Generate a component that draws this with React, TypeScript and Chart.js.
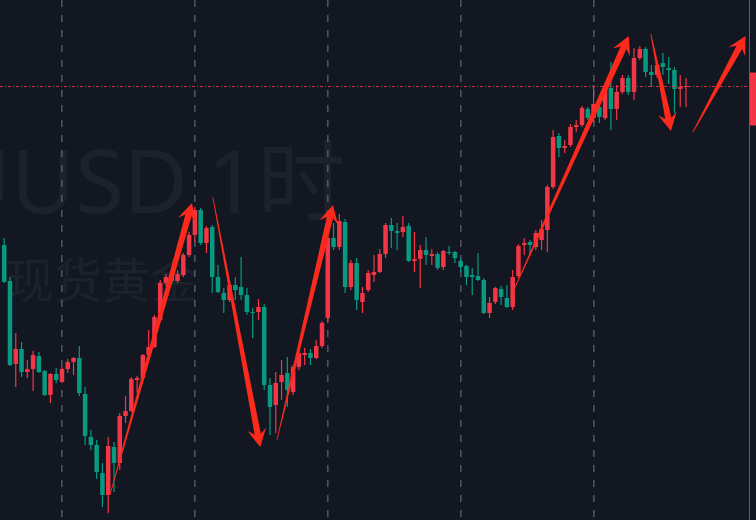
import React, { useEffect, useRef } from "react";
import { Chart, registerables } from "chart.js";

Chart.register(...registerables);

// 1-hour candles, spot gold (XAUUSD)
const OPEN = [
  3255, 3219, 3136, 3151, 3128, 3131, 3144, 3129, 3105, 3126,
  3118, 3131, 3138, 3142, 3106, 3063, 3055, 3027, 3005, 3053,
  3037, 3084, 3089, 3120, 3122, 3145, 3153, 3180, 3217, 3223,
  3219, 3225, 3245, 3265, 3290, 3257, 3273, 3223, 3207, 3200,
  3215, 3213, 3205, 3188, 3188, 3193, 3115, 3095, 3118, 3127,
  3108, 3133, 3145, 3147, 3142, 3154, 3182, 3262, 3253, 3278,
  3213, 3237, 3198, 3210, 3225, 3228, 3246, 3275, 3269, 3268,
  3274, 3239, 3241, 3250, 3244, 3246, 3233, 3248, 3248, 3239,
  3234, 3225, 3224, 3220, 3187, 3198, 3211, 3202, 3193, 3224,
  3255, 3258, 3253, 3260, 3270, 3313, 3364, 3352, 3355, 3373,
  3375, 3391, 3382, 3393, 3382, 3412, 3391, 3408, 3422, 3408,
  3442, 3451, 3428, 3425, 3437, 3432, 3430, 3411, 3413,
];
const HIGH = [
  3262, 3223, 3167, 3158, 3140, 3149, 3148, 3130, 3127, 3132,
  3133, 3141, 3143, 3154, 3113, 3070, 3060, 3037, 3063, 3058,
  3087, 3104, 3123, 3124, 3146, 3170, 3185, 3220, 3226, 3227,
  3230, 3247, 3268, 3293, 3292, 3274, 3275, 3235, 3212, 3217,
  3223, 3243, 3212, 3192, 3201, 3196, 3122, 3128, 3140, 3143,
  3135, 3152, 3152, 3151, 3160, 3179, 3264, 3277, 3286, 3281,
  3240, 3242, 3213, 3230, 3245, 3251, 3277, 3282, 3277, 3284,
  3277, 3268, 3255, 3263, 3251, 3248, 3250, 3254, 3249, 3242,
  3235, 3232, 3247, 3222, 3203, 3213, 3214, 3215, 3230, 3256,
  3262, 3260, 3270, 3280, 3315, 3370, 3367, 3360, 3376, 3380,
  3394, 3393, 3415, 3395, 3412, 3438, 3415, 3425, 3425, 3452,
  3454, 3453, 3435, 3438, 3447, 3443, 3433, 3425, 3422,
];
const LOW = [
  3217, 3134, 3113, 3123, 3122, 3109, 3127, 3104, 3097, 3117,
  3117, 3127, 3125, 3104, 3055, 3050, 3021, 2993, 2987, 3008,
  3030, 3077, 3088, 3107, 3120, 3144, 3152, 3178, 3214, 3216,
  3217, 3223, 3243, 3258, 3255, 3247, 3207, 3207, 3187, 3198,
  3200, 3200, 3185, 3162, 3180, 3110, 3065, 3067, 3100, 3093,
  3105, 3130, 3135, 3135, 3141, 3152, 3177, 3250, 3250, 3207,
  3210, 3190, 3187, 3208, 3218, 3227, 3242, 3252, 3250, 3263,
  3238, 3228, 3212, 3235, 3235, 3230, 3230, 3245, 3237, 3228,
  3215, 3205, 3219, 3186, 3182, 3196, 3195, 3192, 3190, 3222,
  3245, 3245, 3250, 3250, 3248, 3311, 3343, 3347, 3353, 3368,
  3373, 3380, 3377, 3377, 3380, 3370, 3380, 3406, 3405, 3400,
  3440, 3423, 3413, 3422, 3425, 3416, 3387, 3393, 3393,
];
const CLOSE = [
  3218, 3135, 3151, 3128, 3131, 3145, 3128, 3105, 3126, 3120,
  3131, 3138, 3142, 3107, 3064, 3055, 3028, 3005, 3054, 3037,
  3084, 3089, 3121, 3122, 3145, 3153, 3183, 3217, 3223, 3219,
  3226, 3245, 3265, 3290, 3257, 3272, 3223, 3208, 3200, 3215,
  3210, 3205, 3188, 3187, 3193, 3115, 3093, 3117, 3125, 3110,
  3133, 3147, 3147, 3142, 3154, 3177, 3262, 3253, 3279, 3213,
  3237, 3200, 3207, 3227, 3228, 3246, 3275, 3269, 3267, 3273,
  3239, 3241, 3250, 3245, 3246, 3232, 3249, 3247, 3242, 3233,
  3223, 3223, 3220, 3187, 3197, 3212, 3203, 3193, 3223, 3254,
  3257, 3255, 3267, 3271, 3313, 3363, 3352, 3354, 3373, 3375,
  3392, 3382, 3396, 3383, 3410, 3391, 3408, 3422, 3408, 3442,
  3451, 3428, 3425, 3435, 3433, 3430, 3411, 3413, 3414,
];

// bar indices where a new session/day starts (vertical dashed grid)
const DAY_BREAKS = [10, 33, 56, 79, 102];

// hand-drawn arrows: [fromBar, fromPrice, toBar, toPrice]
const ARROW_FROM_BAR = [18.3, 36.1, 47.2, 88.2, 111.9, 119.2];
const ARROW_FROM_PRICE = [3005, 3303, 3060, 3210, 3466, 3368];
const ARROW_TO_BAR = [32.5, 44.3, 56.9, 108.1, 115.4, 128.3];
const ARROW_TO_PRICE = [3297, 3053, 3295, 3464, 3369, 3464];

const SYMBOL = "XAUUSD";
const INTERVAL = "1时";
const NAME = "现货黄金";

const UP = "#f23645";
const DOWN = "#089981";
const BG = "#131722";
const ARROW_RED = "#fb2a1c";

function drawArrow(
  ctx: CanvasRenderingContext2D,
  x1: number,
  y1: number,
  x2: number,
  y2: number
) {
  const dx = x2 - x1;
  const dy = y2 - y1;
  const len = Math.hypot(dx, dy);
  const ux = dx / len;
  const uy = dy / len;
  const nx = -uy;
  const ny = ux;
  const headLen = 18;
  const headW = 9.5;
  const neckW = 3.2;
  const tailW = 0.4;
  const bx = x2 - ux * headLen;
  const by = y2 - uy * headLen;
  const kx = x2 - ux * headLen * 0.72;
  const ky = y2 - uy * headLen * 0.72;
  ctx.beginPath();
  ctx.moveTo(x1 + nx * tailW, y1 + ny * tailW);
  ctx.lineTo(kx + nx * neckW, ky + ny * neckW);
  ctx.lineTo(bx + nx * headW, by + ny * headW);
  ctx.lineTo(x2, y2);
  ctx.lineTo(bx - nx * headW, by - ny * headW);
  ctx.lineTo(kx - nx * neckW, ky - ny * neckW);
  ctx.lineTo(x1 - nx * tailW, y1 - ny * tailW);
  ctx.closePath();
  ctx.fill();
}

export default function App() {
  const ref = useRef<HTMLCanvasElement>(null);

  useEffect(() => {
    document.body.style.margin = "0";
    document.body.style.background = BG;
    if (!ref.current) return;

    const colors = CLOSE.map((c, i) => (c >= OPEN[i] ? UP : DOWN));
    const bodies = CLOSE.map((c, i) => ({ x: i, y: [OPEN[i], c] }));
    const wicks = CLOSE.map((_, i) => ({ x: i, y: [LOW[i], HIGH[i]] }));

    const backdrop = {
      id: "backdrop",
      beforeDraw(chart: any) {
        const { ctx, width, height } = chart;
        ctx.save();
        ctx.fillStyle = BG;
        ctx.fillRect(0, 0, width, height);
        ctx.fillStyle = "rgba(255,255,255,0.045)";
        ctx.textBaseline = "alphabetic";
        ctx.font = '400 88px "Noto Sans", "Noto Sans CJK SC", sans-serif';
        ctx.textAlign = "right";
        ctx.fillText(SYMBOL, 188, 213);
        ctx.textAlign = "left";
        ctx.fillText(INTERVAL, 207, 213);
        ctx.font = '400 48px "Noto Sans CJK SC", sans-serif';
        ctx.fillText(NAME, 6, 298);
        ctx.restore();
      },
    };

    const overlay = {
      id: "overlay",
      afterDatasetsDraw(chart: any) {
        const { ctx, chartArea, width } = chart;
        const xs = chart.scales.x;
        const ys = chart.scales.y;
        ctx.save();
        // last price line
        const last = CLOSE[CLOSE.length - 1];
        const py = Math.round(ys.getPixelForValue(last)) + 0.5;
        ctx.strokeStyle = "rgba(242,54,69,0.85)";
        ctx.lineWidth = 1;
        ctx.setLineDash([3, 2, 1, 2]);
        ctx.beginPath();
        ctx.moveTo(chartArea.left, py);
        ctx.lineTo(chartArea.right, py);
        ctx.stroke();
        ctx.setLineDash([]);
        // arrows
        ctx.fillStyle = ARROW_RED;
        for (let i = 0; i < ARROW_FROM_BAR.length; i++) {
          drawArrow(
            ctx,
            xs.getPixelForValue(ARROW_FROM_BAR[i]),
            ys.getPixelForValue(ARROW_FROM_PRICE[i]),
            xs.getPixelForValue(ARROW_TO_BAR[i]),
            ys.getPixelForValue(ARROW_TO_PRICE[i])
          );
        }
        // price axis edge and price tag
        ctx.strokeStyle = "#5d606b";
        ctx.beginPath();
        ctx.moveTo(chartArea.right + 0.5, 0);
        ctx.lineTo(chartArea.right + 0.5, chart.height);
        ctx.stroke();
        ctx.fillStyle = UP;
        ctx.fillRect(chartArea.right + 1, py - 14, width - chartArea.right, 53);
        ctx.restore();
      },
    };

    const chart = new Chart(ref.current, {
      type: "bar",
      data: {
        datasets: [
          {
            label: "body",
            data: bodies as any,
            backgroundColor: colors,
            borderWidth: 0,
            barThickness: 4.5,
            grouped: false,
            inflateAmount: 0,
            order: 0,
          } as any,
          {
            label: "wick",
            data: wicks as any,
            backgroundColor: colors,
            borderWidth: 0,
            barThickness: 1.2,
            grouped: false,
            inflateAmount: 0,
            order: 1,
          } as any,
        ],
      },
      options: {
        animation: false,
        responsive: true,
        maintainAspectRatio: false,
        layout: { padding: { left: 0, right: 7, top: 0, bottom: 0 } },
        plugins: {
          legend: { display: false },
          tooltip: { enabled: false },
        },
        scales: {
          x: {
            type: "linear",
            min: -0.727,
            max: 128.9,
            offset: false,
            afterBuildTicks: (scale: any) => {
              scale.ticks = DAY_BREAKS.map((v) => ({ value: v }));
            },
            ticks: { display: false },
            grid: {
              display: true,
              offset: false,
              drawTicks: false,
              color: "rgba(128,132,145,0.55)",
              lineWidth: 1.6,
            },
            border: { display: false, dash: [7, 8] },
          },
          y: {
            type: "linear",
            min: 2980,
            max: 3500,
            display: false,
          },
        },
      },
      plugins: [backdrop, overlay],
    });

    return () => chart.destroy();
  }, []);

  return (
    <div style={{ position: "relative", width: 756, height: 520 }}>
      <canvas ref={ref} />
    </div>
  );
}
